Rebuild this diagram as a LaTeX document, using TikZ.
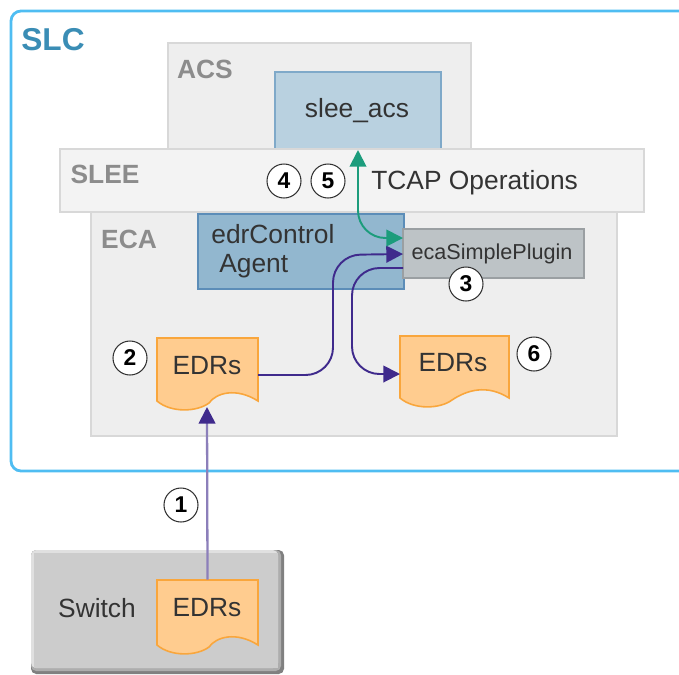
\documentclass[tikz,border=0pt]{standalone}
\usepackage{fontspec}
\setmainfont{Liberation Sans}
\usetikzlibrary{arrows.meta}

\definecolor{slcblue}{HTML}{4FBDF2}
\definecolor{slctext}{HTML}{3A8DB5}
\definecolor{panelfill}{HTML}{EEEEEE}
\definecolor{paneledge}{HTML}{D8D8D8}
\definecolor{paneltext}{HTML}{8C8C8C}
\definecolor{acsfill}{HTML}{B9D1E0}
\definecolor{acsedge}{HTML}{7FA9C9}
\definecolor{agentfill}{HTML}{92B7CF}
\definecolor{agentedge}{HTML}{5C8DB8}
\definecolor{pluginfill}{HTML}{BDC3C6}
\definecolor{pluginedge}{HTML}{9A9FA2}
\definecolor{docfill}{HTML}{FFCC8F}
\definecolor{docedge}{HTML}{F9A63C}
\definecolor{flowpurple}{HTML}{3F2A8C}
\definecolor{flowgreen}{HTML}{1C9C7C}
\definecolor{inktext}{HTML}{333333}

\def\px{0.02cm}

\tikzset{
	box/.style={draw, inner sep=0pt, outer sep=0pt, text=inktext},
	panel/.style={box, fill=panelfill, draw=paneledge, line width=1.2pt},
	tag/.style={text=paneltext, font=\fontsize{15}{16}\selectfont\bfseries, inner sep=0pt},
	label/.style={text=inktext, font=\fontsize{15}{17}\selectfont, inner sep=0pt},
	step num/.style={circle, draw=black!80, fill=white, line width=0.6pt, minimum size=34*\px, inner sep=0pt, font=\fontsize{13}{14}\selectfont\bfseries},
	purple flow/.style={-{Triangle[length=9.5pt,width=9.5pt]}, flowpurple, line width=1.1pt, rounded corners=0.55cm},
	green flow/.style={{Triangle[length=9.5pt,width=9.5pt]}-{Triangle[length=9.5pt,width=9.5pt]}, flowgreen, line width=1.1pt, rounded corners=0.55cm},
}

% document shape, #1 name, #2 left, #3 top, #4 right, #5 y of the lower edge
\newcommand{\edrdoc}[5]{
	\path [fill=docfill, draw=docedge, line width=0.9pt] (#2,#3) -- (#4,#3) -- (#4,#5)
		.. controls ({#4-22},{#5-14}) and ({#4-42},{#5-8}) .. ({#2+52},{#5+2})
		.. controls ({#2+40},{#5+11}) and ({#2+14},{#5+12}) .. (#2,#5) -- cycle;
	\node [inner sep=0pt, minimum width={(#4-#2)*\px}, minimum height={(#5-#3)*\px}] (#1) at ({(#2+#4)/2},{(#3+#5)/2}) {};
}

\begin{document}
\begin{tikzpicture}[x=\px, y=-\px]
	\useasboundingbox (0,0) rectangle (679,674);

	% SLC frame runs off the right edge
	\node [box, draw=slcblue, line width=1.6pt, rounded corners=0.2cm, minimum width=720*\px, minimum height=460*\px] (slc) at (371,241) {};
	\node [tag, text=slctext, font=\fontsize{18}{20}\selectfont\bfseries] (slctag) at (53,40) {SLC};

	\node [panel, minimum width=303*\px, minimum height=107*\px] (acs) at (319.5,96.5) {};
	\node [tag] (acstag) at (205,69) {ACS};
	\node [box, fill=acsfill, draw=acsedge, line width=1.2pt, minimum width=166*\px, minimum height=77*\px] (sleeacs) at (358,110.5) {};
	\node [label] (sleeacstext) at (357,111) {slee\_acs};

	\node [panel, minimum width=526*\px, minimum height=224*\px] (eca) at (354,324) {};
	\node [tag] (ecatag) at (129,239) {ECA};
	\node [panel, fill=panelfill!70!white, minimum width=584*\px, minimum height=63*\px] (slee) at (352,180.5) {};
	\node [tag] (sleetag) at (105,174) {SLEE};
	\node [label, anchor=west] (tcap) at (371,183) {TCAP Operations};

	\node [box, fill=agentfill, draw=agentedge, line width=1.2pt, minimum width=206*\px, minimum height=75*\px] (agent) at (301,251.5) {};
	\node [label, anchor=west] (agenttop) at (211,234) {edrControl};
	\node [label, anchor=west] (agentlow) at (219,266) {Agent};
	\node [box, fill=pluginfill, draw=pluginedge, line width=1.2pt, minimum width=181*\px, minimum height=49*\px] (plugin) at (493.5,253.5) {};
	\node [label, font=\fontsize{12.3}{14}\selectfont] (plugintext) at (492,254) {ecaSimplePlugin};

	% switch with its bevel
	\fill [black!50, rounded corners=3pt] (31,550) rectangle (284,674);
	\fill [black!32, rounded corners=3pt] (31,550) rectangle (281,671);
	\fill [black!12, rounded corners=3pt] (31,550) rectangle (278,668);
	\node [inner sep=0pt, fill=black!20, minimum width=244*\px, minimum height=115*\px] (switch) at (156,610.5) {};
	\node [label] (switchtext) at (97,608) {Switch};

	\edrdoc{edrsA}{157}{338}{258}{401}
	\edrdoc{edrsB}{400}{336}{509}{398}
	\edrdoc{edrsC}{157}{580}{258}{645}
	\node [label] (edrsAtext) at (207,366) {EDRs};
	\node [label] (edrsBtext) at (453,363) {EDRs};
	\node [label] (edrsCtext) at (207,608) {EDRs};

	\coordinate (edrsAout) at (258,375);
	\coordinate (edrsBin) at (400,374);
	\coordinate (edrsAin) at (207,407);
	\coordinate (pluginin) at (403,254);
	\coordinate (pluginout) at (403,268);
	\coordinate (plugingreen) at (403,238);
	\coordinate (sleeacsin) at (358,150);

	\draw [-{Triangle[length=9.5pt,width=9.5pt,color=flowpurple]}, flowpurple!60, line width=1.3pt] (edrsC.north) -- (edrsAin);
	\draw [purple flow] (edrsAout) -- (333,375) -- (333,255) -- (pluginin);
	\draw [purple flow] (pluginout) -- (352,268) -- (352,374) -- (edrsBin);
	\draw [green flow] (plugingreen) -- (358,238) -- (sleeacsin);

	\node [step num] (one) at (181,505) {1};
	\node [step num] (two) at (130,358) {2};
	\node [step num] (three) at (466,284) {3};
	\node [step num] (four) at (284,181) {4};
	\node [step num] (five) at (328,181) {5};
	\node [step num] (six) at (534,354) {6};
\end{tikzpicture}
\end{document}
